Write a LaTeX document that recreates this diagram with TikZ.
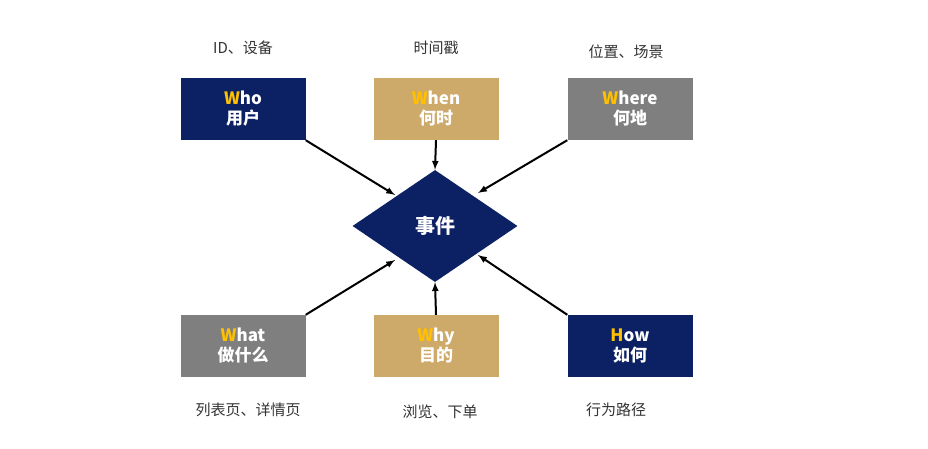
\documentclass[tikz,border=0pt]{standalone}
\usepackage{fontspec}
\setmainfont{Noto Sans CJK SC}
\usepackage{tikz}
\usetikzlibrary{shapes.geometric}
\definecolor{navy}{HTML}{0C2064}
\definecolor{tan}{HTML}{CDA96A}
\definecolor{wgray}{HTML}{7F7F7F}
\definecolor{gold}{HTML}{FFC000}
\tikzset{
  wbox/.style={minimum width=125pt,minimum height=62pt,inner sep=0pt,align=center,
    text=white,font=\bfseries\fontsize{17}{20}\selectfont},
  note/.style={font=\fontsize{15}{18}\selectfont,text=black!80},
  arr/.style={-latex,line width=2pt}
}
\newcommand{\W}[1]{\textcolor{gold}{#1}}
\begin{document}
\begin{tikzpicture}[x=1pt,y=-1pt]
  \useasboundingbox (0,0) rectangle (928,449);
  \node[diamond,fill=navy,minimum width=165pt,minimum height=112pt,inner sep=0pt,aspect=1.47,
    text=white,font=\bfseries\fontsize{20}{24}\selectfont] (event) at (435,226) {事件};
  \node[wbox,fill=navy] (who) at (243,109) {\W{W}ho\\用户};
  \node[wbox,fill=tan] (when) at (436,109) {\W{W}hen\\何时};
  \node[wbox,fill=wgray] (where) at (630,109) {\W{W}here\\何地};
  \node[wbox,fill=wgray] (what) at (243,346) {\W{W}hat\\做什么};
  \node[wbox,fill=tan] (why) at (436,346) {\W{W}hy\\目的};
  \node[wbox,fill=navy] (how) at (630,346) {\W{H}ow\\如何};
  \node[note] (whon) at (243,48) {ID、设备};
  \node[note] (whenn) at (436,48) {时间戳};
  \node[note] (wheren) at (626,52) {位置、场景};
  \node[note] (whatn) at (248,410) {列表页、详情页};
  \node[note] (whyn) at (440,412) {浏览、下单};
  \node[note] (hown) at (616,410) {行为路径};
  \draw[arr] (who.south east) -- (395,195);
  \draw[arr] (when.south) -- (event.north);
  \draw[arr] (where.south west) -- (478,193);
  \draw[arr] (what.north east) -- (395,260);
  \draw[arr] (why.north) -- (event.south);
  \draw[arr] (how.north west) -- (478,255);
\end{tikzpicture}
\end{document}
